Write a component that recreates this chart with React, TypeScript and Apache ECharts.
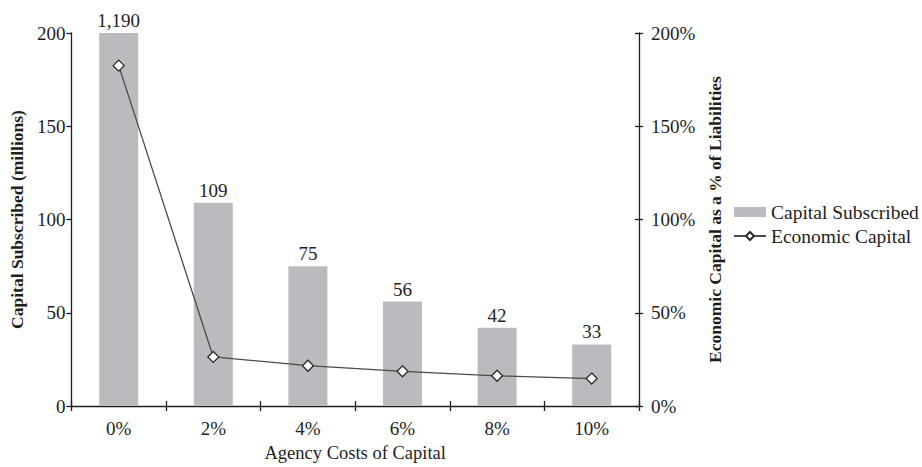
import React, { useEffect, useRef } from "react";
import * as echarts from "echarts";

const categories = ["0%", "2%", "4%", "6%", "8%", "10%"];
const capitalSubscribed = [1190, 109, 75, 56, 42, 33];
const economicCapital = [182.5, 26.3, 21.6, 18.6, 16.2, 14.7];
const leftMax = 200;
const rightMax = 200;
const tickStep = 50;

const FONT = "'Liberation Serif', 'DejaVu Serif', serif";
const INK = "#1e1e1e";
const BAR = "#bbbbbf";

export default function App() {
  const ref = useRef<HTMLDivElement>(null);
  useEffect(() => {
    if (!ref.current) return;
    const chart = echarts.init(ref.current, undefined, { renderer: "svg" });
    const axisLine = { show: true, lineStyle: { color: INK, width: 1.3 } };
    chart.setOption({
      animation: false,
      textStyle: { fontFamily: FONT, color: INK },
      grid: { left: 69, right: 283, top: 33, bottom: 54, containLabel: false },
      legend: {
        orient: "vertical",
        left: 733,
        top: 202,
        padding: 0,
        itemGap: 4,
        itemWidth: 32,
        itemHeight: 10,
        textStyle: { fontFamily: FONT, fontSize: 19.5, color: INK },
        data: [
          { name: "Capital Subscribed", icon: "rect" },
          { name: "Economic Capital" },
        ],
      },
      xAxis: [
        {
          type: "category",
          data: categories,
          boundaryGap: true,
          position: "bottom",
          axisLine,
          axisTick: { show: true, length: 5, lineStyle: { color: INK, width: 1.3 } },
          axisLabel: { fontFamily: FONT, fontSize: 19, color: INK, margin: 13 },
          name: "Agency Costs of Capital",
          nameLocation: "middle",
          nameGap: 37,
          nameTextStyle: { fontFamily: FONT, fontSize: 18.5, color: INK },
        },
        {
          type: "category",
          data: categories,
          boundaryGap: true,
          position: "bottom",
          axisLine: { show: false },
          axisTick: { show: true, inside: true, length: 5, lineStyle: { color: INK, width: 1.3 } },
          axisLabel: { show: false },
        },
      ],
      yAxis: [
        {
          type: "value",
          min: 0,
          max: leftMax,
          interval: tickStep,
          position: "left",
          axisLine,
          axisTick: { show: true, length: 5, lineStyle: { color: INK, width: 1.3 } },
          axisLabel: { fontFamily: FONT, fontSize: 19, color: INK, margin: 6 },
          splitLine: { show: false },
          name: "Capital Subscribed (millions)",
          nameLocation: "middle",
          nameRotate: 90,
          nameGap: 45,
          nameTextStyle: { fontFamily: FONT, fontSize: 17.5, fontWeight: "bold", color: INK },
        },
        {
          type: "value",
          min: 0,
          max: rightMax,
          interval: tickStep,
          position: "right",
          axisLine,
          axisTick: { show: true, length: 4, lineStyle: { color: INK, width: 1.3 } },
          axisLabel: { fontFamily: FONT, fontSize: 19, color: INK, margin: 12, formatter: "{value}%" },
          splitLine: { show: false },
          name: "Economic Capital as a % of Liabilities",
          nameLocation: "middle",
          nameRotate: 90,
          nameGap: 55,
          nameTextStyle: { fontFamily: FONT, fontSize: 17.5, fontWeight: "bold", color: INK },
        },
        {
          type: "value",
          min: 0,
          max: rightMax,
          interval: tickStep,
          position: "right",
          axisLine: { show: false },
          axisTick: { show: true, inside: true, length: 4, lineStyle: { color: INK, width: 1.3 } },
          axisLabel: { show: false },
          splitLine: { show: false },
        },
      ],
      series: [
        {
          name: "Capital Subscribed",
          type: "bar",
          data: capitalSubscribed,
          barWidth: 39,
          clip: true,
          itemStyle: { color: BAR },
          label: {
            show: true,
            position: "top",
            distance: 3,
            fontFamily: FONT,
            fontSize: 19,
            color: INK,
            formatter: (p: any) => Number(p.value).toLocaleString("en-US"),
          },
        },
        {
          name: "Economic Capital",
          type: "line",
          yAxisIndex: 1,
          data: economicCapital,
          symbol: "diamond",
          symbolSize: 11,
          lineStyle: { color: "#4a4a4a", width: 1.3 },
          itemStyle: { color: "#ffffff", borderColor: "#2a2a2a", borderWidth: 1.3 },
        },
      ],
    });
    return () => chart.dispose();
  }, []);
  return (
    <div
      ref={ref}
      style={{ position: "fixed", left: 0, top: 0, width: 922, height: 467, background: "#fff" }}
    />
  );
}
